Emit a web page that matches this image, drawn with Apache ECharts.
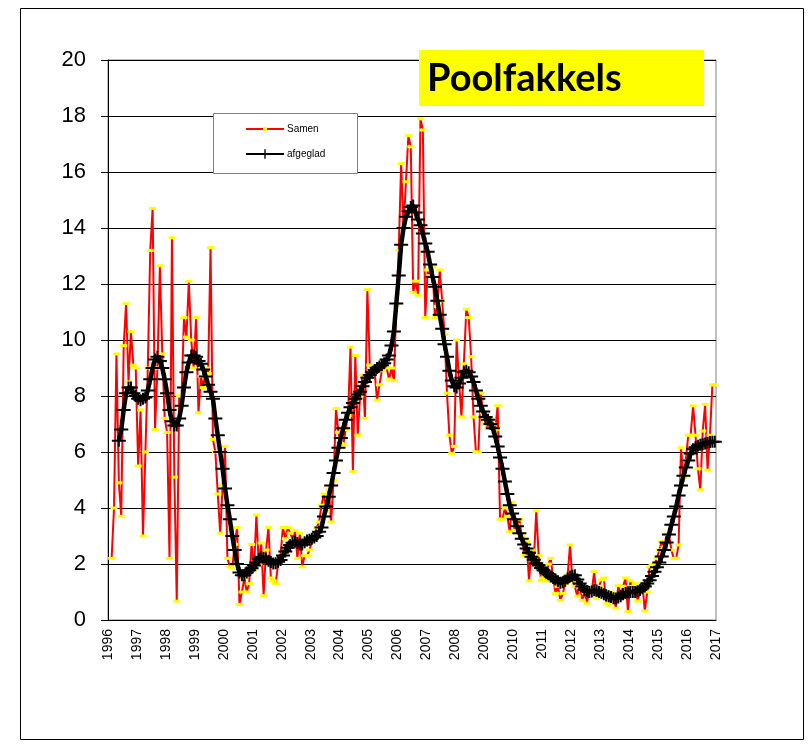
<!DOCTYPE html>
<html>
<head>
<meta charset="utf-8">
<title>Poolfakkels</title>
<script src="https://cdn.jsdelivr.net/npm/echarts@6/dist/echarts.min.js"></script>
<style>
  html, body { margin: 0; padding: 0; background: #fff; }
  #container { width: 811px; height: 747px; }
</style>
</head>
<body>
<div id="container"></div>
<script>
var firstYear = 1996;
var lastYear = 2017;
var monthOffset = 1.5;

var yTicks = [0, 2, 4, 6, 8, 10, 12, 14, 16, 18, 20];

// monthly values, one row = 12 months
var samen = [
  2.2, 4.0, 9.5, 4.9, 3.7, 9.8, 11.3, 8.5, 10.3, 9.1, 9.0, 5.5,
  7.5, 3.0, 6.0, 9.0, 13.2, 14.7, 6.8, 9.0, 12.65, 9.5, 7.2, 6.7,
  2.2, 13.65, 5.1, 0.67, 8.0, 8.0, 10.8, 10.1, 12.1, 10.0, 9.0, 10.8,
  7.4, 8.7, 8.3, 9.0, 8.8, 13.3, 6.45, 6.0, 4.5, 3.1, 4.8, 6.2,
  2.2, 1.9, 1.85, 2.7, 3.3, 0.55, 1.0, 1.5, 1.0, 1.3, 2.7, 1.8,
  3.75, 2.0, 2.75, 0.87, 2.5, 3.3, 1.5, 1.4, 1.3, 2.0, 2.3, 3.3,
  2.9, 3.3, 3.1, 2.9, 3.2, 2.2, 3.1, 1.9, 2.3, 2.3, 2.5, 2.8,
  3.0, 3.3, 3.5, 4.1, 4.5, 3.9, 4.65, 3.5, 5.0, 7.55, 6.7, 6.3,
  6.25, 6.8, 7.3, 9.75, 5.3, 9.45, 6.6, 8.0, 8.75, 7.2, 11.8, 9.1,
  8.8, 8.9, 7.85, 8.4, 8.9, 9.3, 9.0, 8.6, 9.0, 8.55, 11.25, 13.2,
  16.3, 14.0, 15.65, 17.3, 16.9, 11.7, 12.1, 11.6, 17.9, 17.5, 10.8, 12.5,
  12.3, 12.6, 10.8, 11.2, 12.5, 11.4, 10.2, 8.1, 6.6, 5.95, 6.2, 10.0,
  8.5, 7.25, 9.15, 11.1, 10.8, 9.4, 7.25, 6.0, 6.0, 8.1, 7.4, 7.0,
  6.85, 7.2, 7.0, 6.8, 7.65, 3.6, 3.6, 4.0, 3.7, 3.15, 4.2, 3.2,
  3.4, 3.6, 3.0, 2.3, 2.8, 1.4, 2.5, 2.1, 3.9, 2.3, 1.4, 1.5,
  1.4, 2.0, 2.2, 1.5, 0.95, 1.2, 0.7, 0.95, 1.3, 1.6, 2.68, 1.4,
  1.2, 0.85, 1.3, 0.7, 1.0, 0.6, 1.1, 1.0, 1.73, 0.77, 1.2, 1.43,
  1.5, 0.6, 0.53, 1.0, 0.9, 0.42, 1.23, 0.9, 1.2, 1.5, 0.3, 1.4,
  1.2, 1.3, 0.68, 1.0, 1.3, 0.32, 1.0, 1.9, 1.96, 2.0, 2.2, 2.5,
  2.8, 2.6, 3.06, 3.06, 2.5, 2.2, 2.2, 2.68, 6.15, 5.1, 5.7, 6.6,
  6.6, 7.65, 6.6, 5.4, 4.65, 6.75, 7.7, 5.35, 6.6, 8.4, 8.4
];

var afgeglad = [
  null, null, null, 6.4, 6.8, 7.5, 8.1, 8.3, 8.3, 8.1, 8.0, 7.9,
  7.85, 7.9, 7.95, 8.2, 8.6, 9.0, 9.3, 9.4, 9.25, 9.0, 8.6, 8.1,
  7.5, 7.1, 6.95, 6.95, 7.2, 7.65, 8.3, 8.85, 9.2, 9.45, 9.45, 9.4,
  9.25, 9.15, 8.95, 8.7, 8.4, 8.15, 7.9, 7.2, 6.6, 6.0, 5.4, 4.7,
  4.1, 3.6, 3.0, 2.5, 2.0, 1.7, 1.6, 1.6, 1.7, 1.78, 1.85, 1.95,
  2.05, 2.18, 2.26, 2.22, 2.17, 2.12, 2.07, 2.02, 2.03, 2.08, 2.14, 2.3,
  2.45, 2.58, 2.68, 2.76, 2.8, 2.75, 2.7, 2.7, 2.78, 2.84, 2.87, 2.9,
  2.95, 3.0, 3.15, 3.3, 3.7, 4.05, 4.4, 4.8, 5.25, 5.7, 6.15, 6.5,
  6.85, 7.15, 7.4, 7.6, 7.75, 7.9, 8.05, 8.15, 8.35, 8.5, 8.65, 8.75,
  8.85, 8.93, 9.0, 9.05, 9.1, 9.17, 9.3, 9.45, 9.8, 10.3, 11.3, 12.3,
  13.4, 14.0, 14.4, 14.6, 14.75, 14.8, 14.55, 14.3, 14.1, 13.8, 13.45, 13.15,
  12.7, 12.25, 11.9, 11.4, 10.9, 10.4, 9.85, 9.4, 8.9, 8.55, 8.35, 8.3,
  8.45, 8.65, 8.85, 8.9, 8.85, 8.7, 8.5, 8.2, 7.9, 7.65, 7.45, 7.25,
  7.15, 7.0, 6.85, 6.55, 6.2, 5.8, 5.4, 4.95, 4.5, 4.1, 3.8, 3.6,
  3.35, 3.1, 2.9, 2.7, 2.55, 2.4, 2.26, 2.15, 2.03, 1.95, 1.86, 1.78,
  1.7, 1.63, 1.55, 1.5, 1.45, 1.38, 1.33, 1.35, 1.4, 1.48, 1.55, 1.58,
  1.6, 1.45, 1.3, 1.2, 1.08, 1.03, 1.0, 1.02, 1.06, 1.05, 1.0, 0.97,
  0.92, 0.88, 0.85, 0.82, 0.78, 0.77, 0.8, 0.85, 0.92, 0.96, 0.99, 1.0,
  1.0, 1.0, 1.03, 1.07, 1.13, 1.2, 1.3, 1.42, 1.57, 1.72, 1.88, 2.05,
  2.27, 2.5, 2.77, 3.05, 3.4, 3.7, 4.05, 4.45, 4.8, 5.15, 5.45, 5.7,
  5.95, 6.1, 6.17, 6.22, 6.26, 6.28, 6.3, 6.33, 6.36, 6.37, 6.37
];

function toPoints(arr) {
  return arr.map(function (v, i) {
    return [firstYear + (i + monthOffset) / 12, v];
  });
}

var dom = document.getElementById('container');
var myChart = echarts.init(dom, null, { renderer: 'canvas' });

var plusIcon = 'path://M0,5h14v2h-14z M6,0h2v12h-2z';

var legendText = { fontSize: 10, color: '#000', padding: [0, 0, 0, -2] };

var option = {
  animation: false,
  backgroundColor: '#fff',
  textStyle: { fontFamily: 'Liberation Sans, Arial, sans-serif' },
  grid: {
    left: 108, right: 95, top: 60, bottom: 127,
    show: true, borderColor: '#808080', borderWidth: 1,
    containLabel: false
  },
  legend: [
    {
      left: 245, top: 124, padding: 0,
      itemWidth: 38, itemHeight: 5,
      textStyle: legendText,
      z: 12,
      data: ['Samen']
    },
    {
      left: 245, top: 149, padding: 0,
      itemWidth: 38, itemHeight: 12,
      textStyle: legendText,
      z: 12,
      data: ['afgeglad']
    }
  ],
  xAxis: {
    type: 'value',
    min: firstYear, max: lastYear, interval: 1,
    axisLine: { show: true, lineStyle: { color: '#000', width: 1 } },
    axisTick: { show: false },
    splitLine: { show: false },
    axisLabel: {
      rotate: 90, fontSize: 14, color: '#000', margin: 9,
      formatter: function (v) { return String(Math.round(v)); }
    }
  },
  yAxis: {
    type: 'value',
    min: yTicks[0], max: yTicks[yTicks.length - 1], interval: 2,
    axisLine: { show: true, lineStyle: { color: '#000', width: 1 } },
    axisTick: { show: true, inside: false, length: 7, lineStyle: { color: '#000' } },
    splitLine: { show: true, lineStyle: { color: '#000', width: 1 } },
    axisLabel: { fontSize: 22, color: '#000', margin: 22 }
  },
  series: [
    {
      name: 'Samen',
      type: 'line',
      data: toPoints(samen),
      showSymbol: true,
      showAllSymbol: true,
      symbol: 'rect',
      symbolSize: [7, 3],
      itemStyle: { color: '#ffff00', borderWidth: 0 },
      lineStyle: { color: '#ff0000', width: 2 },
      z: 2
    },
    {
      name: 'afgeglad',
      type: 'line',
      data: toPoints(afgeglad),
      connectNulls: false,
      showSymbol: true,
      showAllSymbol: true,
      symbol: plusIcon,
      symbolSize: [14, 12],
      itemStyle: { color: '#000', borderWidth: 0 },
      lineStyle: { color: '#000', width: 4.5 },
      z: 3
    }
  ],
  graphic: [
    {
      type: 'rect', silent: true, z: -1,
      shape: { x: 20.5, y: 8.5, width: 783, height: 731 },
      style: { fill: 'none', stroke: '#000', lineWidth: 1 }
    },
    {
      type: 'rect', silent: true, z: 10,
      shape: { x: 213.5, y: 113.5, width: 144, height: 60 },
      style: { fill: '#fff', stroke: '#808080', lineWidth: 1 }
    },
    {
      type: 'rect', silent: true, z: 10,
      shape: { x: 419, y: 50, width: 285, height: 56 },
      style: { fill: '#ffff00' }
    },
    {
      type: 'text', silent: true, z: 11,
      x: 427, y: 79,
      style: {
        text: 'Poolfakkels',
        font: 'bold 38px Lato, "Open Sans", sans-serif',
        fill: '#000',
        verticalAlign: 'middle'
      }
    }
  ]
};

myChart.setOption(option);
window.addEventListener('resize', myChart.resize);
</script>
</body>
</html>
